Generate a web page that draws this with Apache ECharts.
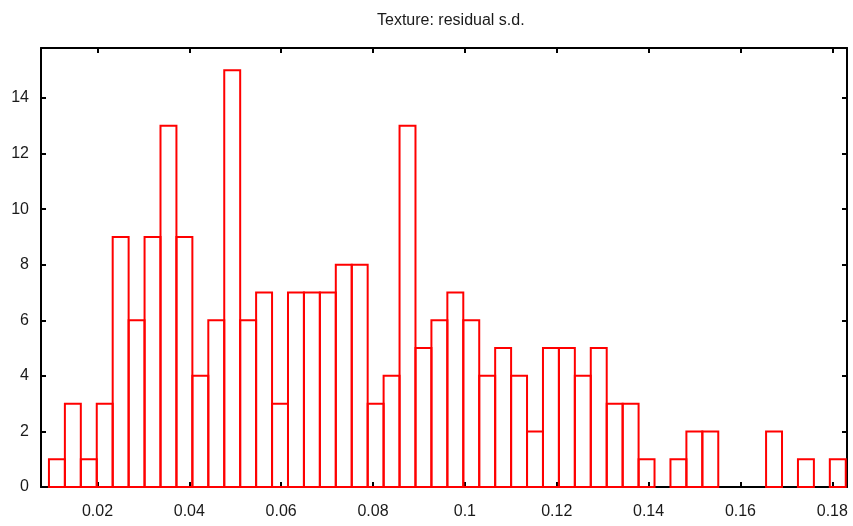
<!DOCTYPE html>
<html lang="en">
<head>
<meta charset="UTF-8" />
<title>Texture: residual s.d.</title>
<script src="https://cdn.jsdelivr.net/npm/echarts@6/dist/echarts.min.js"></script>
<style>
  html, body { margin: 0; padding: 0; background: #fff; }
  #main { width: 853px; height: 526px; }
</style>
</head>
<body>
<div id="main"></div>
<script>
// counts per bin, 50 equal-width bins
var counts = [1, 3, 1, 3, 9, 6, 9, 13, 9, 4,
              6, 15, 6, 7, 3, 7, 7, 7, 8, 8,
              3, 4, 13, 5, 6, 7, 6, 4, 5, 4,
              2, 5, 5, 4, 5, 3, 3, 1, 0, 1,
              2, 2, 0, 0, 0, 2, 0, 1, 0, 1];
var binStart = 0.00943;
var binWidth = 0.00347;
var xTicks = [0.02, 0.04, 0.06, 0.08, 0.1, 0.12, 0.14, 0.16, 0.18];
var yTicks = [0, 2, 4, 6, 8, 10, 12, 14];

var bins = counts.map(function (c, i) {
  var lo = binStart + i * binWidth;
  return [lo, lo + binWidth, c];
});

var font = 'Liberation Sans';
var lineStyle = { color: '#000', width: 2 };

function xAxis(pos, labels) {
  return {
    type: 'value', position: pos, min: 0.0077, max: 0.1832,
    axisLine: { show: true, onZero: false, lineStyle: lineStyle },
    axisTick: { show: true, inside: true, length: 5, customValues: xTicks, lineStyle: lineStyle },
    axisLabel: { show: labels, customValues: xTicks, margin: 17, fontSize: 16, color: '#1a1a1a', fontFamily: font },
    splitLine: { show: false }
  };
}
function yAxis(pos, labels) {
  return {
    type: 'value', position: pos, min: 0, max: 15.8,
    axisLine: { show: true, onZero: false, lineStyle: lineStyle },
    axisTick: { show: true, inside: true, length: 5, customValues: yTicks, lineStyle: lineStyle },
    axisLabel: { show: labels, customValues: yTicks, margin: 12, fontSize: 16, color: '#1a1a1a', fontFamily: font },
    splitLine: { show: false }
  };
}

var chart = echarts.init(document.getElementById('main'));
chart.setOption({
  animation: false,
  backgroundColor: '#fff',
  title: {
    text: 'Texture: residual s.d.', left: 372, top: 8,
    textStyle: { fontSize: 16, fontWeight: 'normal', color: '#1a1a1a', fontFamily: font }
  },
  grid: { left: 41, right: 6, top: 48, bottom: 39, containLabel: false, outerBoundsMode: 'none' },
  xAxis: [xAxis('bottom', true), xAxis('top', false)],
  yAxis: [yAxis('left', true), yAxis('right', false)],
  series: [{
    type: 'custom',
    data: bins,
    encode: { x: [0, 1], y: 2 },
    renderItem: function (params, api) {
      if (api.value(2) === 0) return null;
      var p0 = api.coord([api.value(0), 0]);
      var p1 = api.coord([api.value(1), api.value(2)]);
      return {
        type: 'rect',
        shape: { x: p0[0], y: p1[1], width: p1[0] - p0[0], height: p0[1] - p1[1] },
        style: { fill: 'none', stroke: '#ff0000', lineWidth: 2 }
      };
    }
  }]
});
</script>
</body>
</html>
